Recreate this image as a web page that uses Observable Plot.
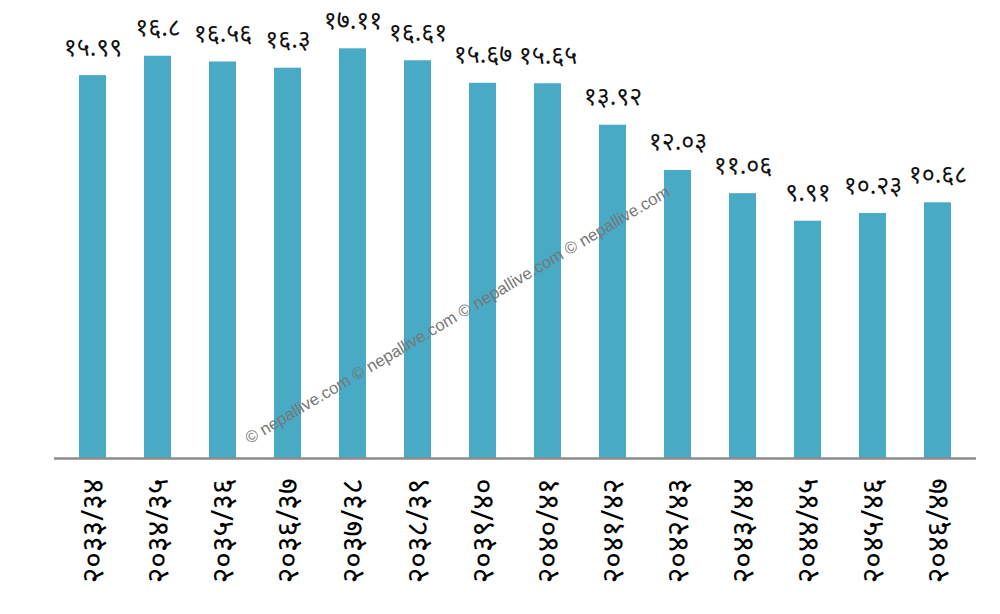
<!DOCTYPE html>
<html>
<head>
<meta charset="utf-8">
<script src="https://cdn.jsdelivr.net/npm/d3@7"></script>
<script src="https://cdn.jsdelivr.net/npm/@observablehq/plot@0.6"></script>
<style>
  html, body { margin: 0; padding: 0; background: #fff; }
  #chart { width: 1000px; height: 614px; }
</style>
</head>
<body>
<div id="chart"></div>
<script>
const years = ["२०३३/३४","२०३४/३५","२०३५/३६","२०३६/३७","२०३७/३८","२०३८/३९","२०३९/४०","२०४०/४१","२०४१/४२","२०४२/४३","२०४३/४४","२०४४/४५","२०४५/४६","२०४६/४७"];
const values = [15.99, 16.8, 16.56, 16.3, 17.11, 16.61, 15.67, 15.65, 13.92, 12.03, 11.06, 9.91, 10.23, 10.68];
const watermark = ["© nepallive.com © nepallive.com © nepallive.com © nepallive.com"];

const devDigits = "०१२३४५६७८९";
const toDev = s => String(s).replace(/[0-9]/g, d => devDigits[+d]);

const data = years.map((y, i) => ({year: y, value: values[i], label: toDev(values[i])}));

const chart = Plot.plot({
  width: 1000,
  height: 614,
  marginLeft: 54,
  marginRight: 24,
  marginTop: 27,
  marginBottom: 156,
  style: {fontFamily: "'Noto Sans', sans-serif", background: "#fff"},
  x: {domain: years, paddingInner: 0.585, paddingOuter: 0.285, label: null, tickSize: 0, tickRotate: -90, tickPadding: 20},
  y: {domain: [0, 18], axis: null},
  marks: [
    Plot.barY(data, {x: "year", y: "value", fill: "#49aac6"}),
    Plot.text(watermark, {text: d => d, frameAnchor: "middle", dx: -58, dy: 72, rotate: -30.6, fontSize: 16.7, fill: "#777", fontFamily: "Arial, 'Liberation Sans', sans-serif"}),
    Plot.ruleY([0], {stroke: "#8c8c8c", strokeWidth: 2.5}),
    Plot.text(data, {x: "year", y: "value", text: "label", dy: -28, fontSize: 25, fill: "#111"})
  ]
});
chart.querySelectorAll('[aria-label="x-axis tick label"] text').forEach(t => t.setAttribute("font-size", "30"));
document.getElementById("chart").appendChild(chart);
</script>
</body>
</html>
